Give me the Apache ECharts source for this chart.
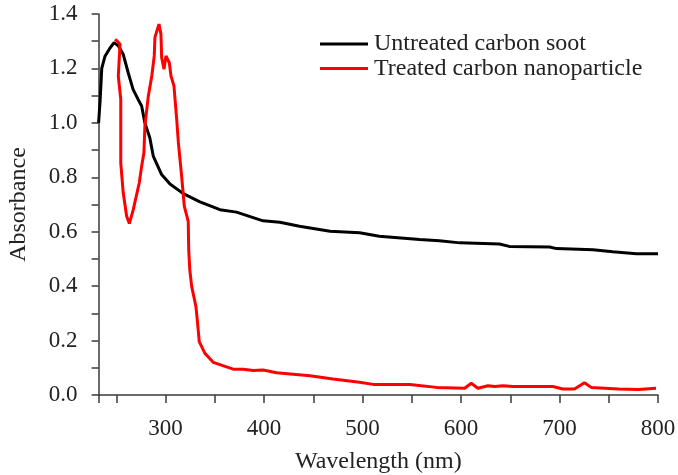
<!DOCTYPE html>
<html>
<head>
<meta charset="utf-8">
<script src="https://cdn.jsdelivr.net/npm/echarts@6/dist/echarts.min.js"></script>
<style>
html,body{margin:0;padding:0;background:#fff;}
#chart{width:678px;height:475px;}
</style>
</head>
<body>
<div id="chart"></div>
<script>
var seriesNames = ['Untreated carbon soot', 'Treated carbon nanoparticle'];

var untreatedWl = [232, 233.5, 235.2, 238.5, 243.6, 247.7, 252, 257, 262, 267, 272, 275.7, 279, 284, 287.5, 296, 304.5, 318, 334.9, 355.2, 372, 399, 416, 436, 467, 497, 517, 558, 578, 599, 639, 649, 690, 697, 734, 754, 778, 800];
var untreatedAbs = [1.0, 1.08, 1.2, 1.245, 1.275, 1.295, 1.283, 1.252, 1.185, 1.123, 1.087, 1.062, 1.0, 0.945, 0.878, 0.81, 0.775, 0.74, 0.71, 0.681, 0.672, 0.64, 0.635, 0.62, 0.602, 0.596, 0.583, 0.571, 0.567, 0.559, 0.555, 0.546, 0.544, 0.538, 0.534, 0.526, 0.519, 0.519];

var treatedWl = [248.7, 251, 253.8, 252, 254.5, 254.5, 257, 260.5, 263.2, 267.2, 273.3, 275.7, 278, 279, 282.5, 286, 288.5, 289.2, 293.3, 295.3, 296, 298.4, 300.4, 303.8, 305.5, 308.5, 311.3, 313, 316.3, 319, 323, 323.5, 324.6, 326.5, 330.8, 332.2, 334.2, 340, 348.4, 368.7, 378.8, 389, 399, 412.7, 446.5, 470, 497, 510.7, 547.9, 575, 603.7, 610.4, 617.1, 627.3, 634, 642.5, 652.6, 693.2, 703.4, 715.2, 725.3, 732.2, 760, 780, 798];
var treatedAbs = [1.307, 1.3, 1.289, 1.172, 1.087, 0.853, 0.743, 0.657, 0.63, 0.681, 0.78, 0.841, 0.89, 0.988, 1.099, 1.172, 1.246, 1.314, 1.363, 1.326, 1.24, 1.197, 1.246, 1.221, 1.172, 1.136, 1.013, 0.927, 0.804, 0.694, 0.638, 0.534, 0.46, 0.399, 0.325, 0.276, 0.196, 0.153, 0.12, 0.095, 0.095, 0.09, 0.092, 0.082, 0.071, 0.059, 0.047, 0.039, 0.039, 0.028, 0.025, 0.043, 0.025, 0.034, 0.031, 0.034, 0.031, 0.031, 0.022, 0.022, 0.045, 0.028, 0.022, 0.02, 0.025];

var xTickLabels = [300, 400, 500, 600, 700, 800];
var xTicks = [232, 250, 300, 350, 400, 450, 500, 550, 600, 650, 700, 750, 800];

function pairs(xs, ys) { return xs.map(function (x, i) { return [x, ys[i]]; }); }

var font = '"Liberation Serif", "Times New Roman", serif';
var axisColor = '#3a3a3a';
var textColor = '#222';

var chart = echarts.init(document.getElementById('chart'), null, {renderer: 'canvas'});
chart.setOption({
  animation: false,
  backgroundColor: '#fff',
  grid: {left: 98.6, right: 20, top: 14, bottom: 80, containLabel: false, outerBoundsMode: 'none'},
  legend: {
    orient: 'vertical',
    left: 320,
    top: 32,
    padding: 0,
    icon: 'rect',
    itemWidth: 48,
    itemHeight: 3,
    itemGap: 0.5,
    data: seriesNames,
    textStyle: {fontFamily: font, fontSize: 24, color: textColor, lineHeight: 22, padding: [0, 0, 0, 1]}
  },
  xAxis: {
    type: 'value',
    min: 232,
    max: 800,
    name: 'Wavelength (nm)',
    nameLocation: 'middle',
    nameGap: 55,
    nameTextStyle: {fontFamily: font, fontSize: 24, color: textColor},
    axisLine: {show: true, lineStyle: {color: axisColor, width: 1.5}},
    axisTick: {show: true, length: 8, inside: false, customValues: xTicks, lineStyle: {color: axisColor, width: 1.5}},
    axisLabel: {customValues: xTickLabels, margin: 22, fontFamily: font, fontSize: 23, color: textColor},
    splitLine: {show: false}
  },
  yAxis: {
    type: 'value',
    min: 0,
    max: 1.4,
    interval: 0.2,
    name: 'Absorbance',
    nameLocation: 'middle',
    nameRotate: 90,
    nameGap: 68,
    nameTextStyle: {fontFamily: font, fontSize: 24, color: textColor},
    axisLine: {show: true, lineStyle: {color: axisColor, width: 1.5}},
    axisTick: {show: true, length: 7, inside: false, lineStyle: {color: axisColor, width: 1.5}},
    minorTick: {show: true, splitNumber: 2, length: 7, lineStyle: {color: axisColor, width: 1.5}},
    axisLabel: {margin: 21, fontFamily: font, fontSize: 23, color: textColor, formatter: function (v) { return v.toFixed(1); }},
    splitLine: {show: false}
  },
  series: [
    {
      name: seriesNames[0],
      type: 'line',
      data: pairs(untreatedWl, untreatedAbs),
      showSymbol: false,
      color: '#000000',
      lineStyle: {color: '#000000', width: 3},
      z: 2
    },
    {
      name: seriesNames[1],
      type: 'line',
      data: pairs(treatedWl, treatedAbs),
      showSymbol: false,
      color: '#ff0000',
      lineStyle: {color: '#ff0000', width: 3},
      z: 3
    }
  ]
});
</script>
</body>
</html>
